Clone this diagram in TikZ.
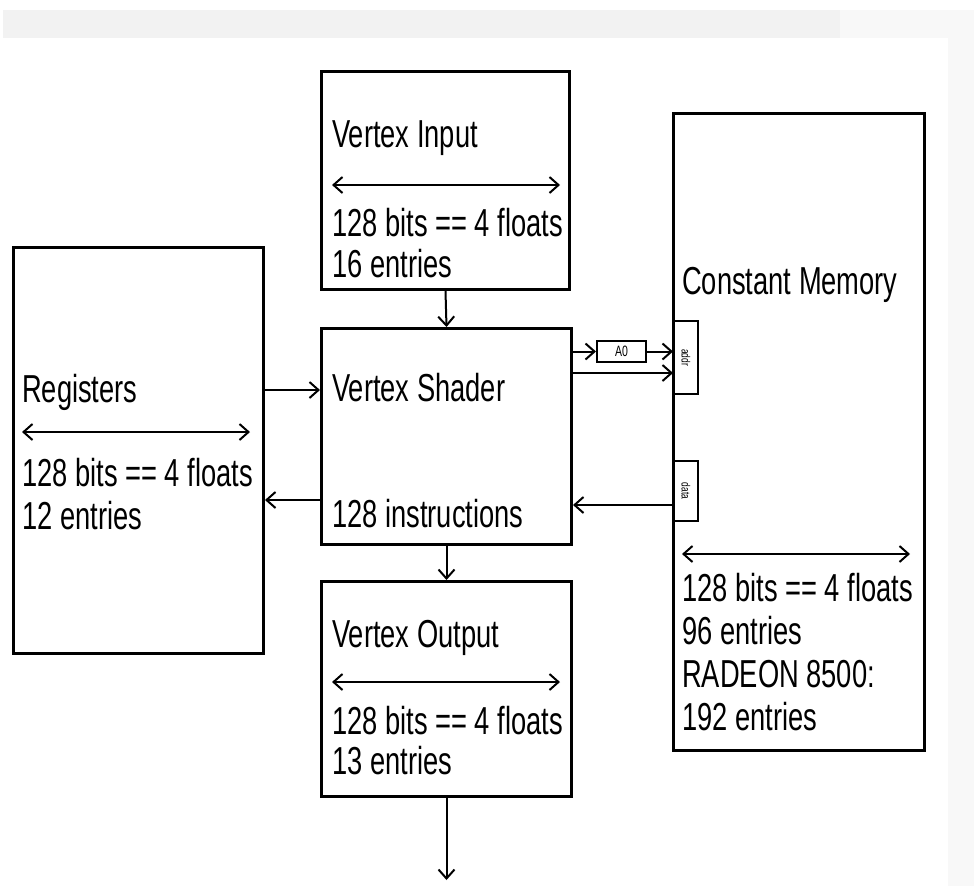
\documentclass[tikz,border=0pt]{standalone}
\usepackage{fontspec}
\setmainfont{Liberation Sans}[FakeStretch=0.70]
\usetikzlibrary{arrows.meta}
\definecolor{band}{HTML}{F2F2F2}
\definecolor{pale}{HTML}{F8F8F8}
\begin{document}
\begin{tikzpicture}[x=1pt,y=-1pt,>={Straight Barb[length=9pt,width=16pt]},
  box/.style={draw,rectangle,line width=3pt,anchor=north west,inner sep=0pt},
  tag/.style={draw,rectangle,line width=2pt,anchor=north west,inner sep=0pt},
  lbl/.style={anchor=base west,inner sep=0pt,font=\fontsize{39}{44}\selectfont},
  wire/.style={->,line width=2pt},
  span/.style={<->,line width=2pt}]
\useasboundingbox (0,0) rectangle (974,886);
\fill[white] (0,0) rectangle (974,886);
\fill[band] (3,10) rectangle (840,38);
\fill[pale] (840,10) rectangle (974,38);
\fill[pale] (948,38) rectangle (974,886);
\node[box,minimum width=248pt,minimum height=218pt] (input) at (320,70) {};
\node[box,minimum width=250pt,minimum height=216pt] (shader) at (320,327) {};
\node[box,minimum width=250pt,minimum height=215pt] (output) at (320,580) {};
\node[box,minimum width=250pt,minimum height=406pt] (regs) at (12,246) {};
\node[box,minimum width=251pt,minimum height=637pt] (cmem) at (672,112) {};
\node[tag,minimum width=24pt,minimum height=73pt] (addr) at (673,320) {};
\node[tag,minimum width=24pt,minimum height=60pt] (data) at (673,460) {};
\node[tag,minimum width=49pt,minimum height=21pt] (a0) at (596,340) {};
\node[font=\fontsize{15}{15}\selectfont] (a0t) at (a0.center) {A0};
\node[rotate=-90,font=\fontsize{12}{12}\selectfont] (addrt) at (addr.center) {addr};
\node[rotate=-90,font=\fontsize{12}{12}\selectfont] (datat) at (data.center) {data};
\node[lbl] (inname) at (332,147) {Vertex Input};
\node[lbl] (inbits) at (332,236) {128 bits == 4 floats};
\node[lbl] (innum) at (332,277) {16 entries};
\node[lbl] (regname) at (22,402) {Registers};
\node[lbl] (regbits) at (22,486) {128 bits == 4 floats};
\node[lbl] (regnum) at (22,529) {12 entries};
\node[lbl] (shname) at (332,401) {Vertex Shader};
\node[lbl] (shnum) at (332,527) {128 instructions};
\node[lbl] (outname) at (332,647) {Vertex Output};
\node[lbl] (outbits) at (332,734) {128 bits == 4 floats};
\node[lbl] (outnum) at (332,774) {13 entries};
\node[lbl] (cmname) at (682,294) {Constant Memory};
\node[lbl] (cmbits) at (682,601) {128 bits == 4 floats};
\node[lbl] (cmnum) at (682,644) {96 entries};
\node[lbl] (cmcard) at (682,687) {RADEON 8500:};
\node[lbl] (cmmore) at (682,730) {192 entries};
\coordinate (inL) at (332,185);
\coordinate (inR) at (560,185);
\coordinate (regL) at (22,432);
\coordinate (regR) at (250,432);
\coordinate (outL) at (332,682);
\coordinate (outR) at (560,682);
\coordinate (cmL) at (682,554);
\coordinate (cmR) at (910,554);
\coordinate (sink) at (output.south |- 0,880);
\draw[span] (inL) -- (inR);
\draw[span] (regL) -- (regR);
\draw[span] (outL) -- (outR);
\draw[span] (cmL) -- (cmR);
\draw[wire] (input.south) -- (shader.north);
\draw[wire] (shader.south) -- (output.north);
\draw[wire] (output.south) -- (sink);
\draw[wire] (regs.east |- 0,390) -- (shader.west |- 0,390);
\draw[wire] (shader.west |- 0,500) -- (regs.east |- 0,500);
\draw[wire] (shader.east |- a0.west) -- (a0.west);
\draw[wire] (a0.east) -- (addr.west |- a0.east);
\draw[wire] (shader.east |- 0,373) -- (addr.west |- 0,373);
\draw[wire] (data.west |- 0,505) -- (shader.east |- 0,505);
\end{tikzpicture}
\end{document}
